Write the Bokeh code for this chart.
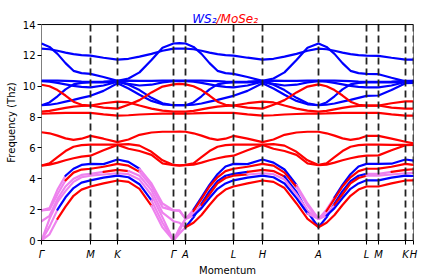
from bokeh.plotting import figure
from bokeh.models import Span, FixedTicker
from bokeh.core.properties import value
from bokeh.embed import file_html
from bokeh.resources import INLINE

# k-path coordinate of each sample point
k_path = [0, 8, 16, 24, 32, 40, 49, 62, 76, 87, 98, 110, 121, 132, 138, 144,
          152, 160, 168, 176, 184, 192, 206, 221, 232, 243, 255, 266, 277,
          285, 293, 301, 309, 317, 325, 337, 350, 364, 372]

sym_x = [0, 49, 76, 132, 144, 192, 221, 277, 325, 337, 364, 372]
sym_labels = ["Γ", "M", "K", "Γ", "A", "L", "H", "A", "L", "M", "K", "H"]

# WS2 optical bands (THz)
ws2_b1 = [12.77, 12.55, 12.1, 11.5, 11.0, 10.85, 10.8, 10.6, 10.35,
          10.5, 10.9, 11.7, 12.5, 12.77, 12.8, 12.77,
          12.55, 12.1, 11.5, 11.0, 10.85, 10.8, 10.6, 10.35,
          10.5, 10.9, 11.7, 12.5, 12.77,
          12.55, 12.1, 11.5, 11.0, 10.85, 10.8, 10.78, 10.55, 10.32, 10.3]
ws2_b2 = [12.44, 12.4, 12.3, 12.18, 12.08, 12.02, 11.99, 11.85, 11.73,
          11.78, 11.92, 12.1, 12.3, 12.44, 12.44, 12.44,
          12.4, 12.3, 12.18, 12.08, 12.02, 11.99, 11.85, 11.73,
          11.78, 11.92, 12.1, 12.3, 12.44,
          12.4, 12.3, 12.18, 12.08, 12.02, 11.99, 11.97, 11.85, 11.73, 11.72]
ws2_b3 = [10.37, 10.37, 10.36, 10.35, 10.33, 10.3, 10.28, 10.3, 10.35,
          10.36, 10.35, 10.35, 10.36, 10.37, 10.37, 10.37,
          10.37, 10.36, 10.35, 10.33, 10.3, 10.28, 10.3, 10.35,
          10.36, 10.35, 10.35, 10.36, 10.37,
          10.37, 10.36, 10.35, 10.33, 10.3, 10.28, 10.28, 10.3, 10.35, 10.35]
ws2_b4 = [10.33, 10.3, 10.22, 10.12, 10.02, 9.96, 9.93, 10.05, 10.3,
          10.15, 10.05, 10.1, 10.25, 10.33, 10.33, 10.33,
          10.3, 10.22, 10.12, 10.02, 9.96, 9.93, 10.05, 10.3,
          10.15, 10.05, 10.1, 10.25, 10.33,
          10.3, 10.22, 10.12, 10.02, 9.96, 9.93, 9.93, 10.05, 10.28, 10.28]
ws2_b5 = [8.77, 8.95, 9.35, 9.8, 10.12, 10.22, 10.25, 10.25, 10.3,
          10.1, 9.75, 9.25, 8.9, 8.77, 8.77, 8.77,
          8.95, 9.35, 9.8, 10.12, 10.22, 10.25, 10.25, 10.3,
          10.1, 9.75, 9.25, 8.9, 8.77,
          8.95, 9.35, 9.8, 10.12, 10.22, 10.25, 10.25, 10.25, 10.3, 10.3]
ws2_b6 = [8.77, 8.8, 8.88, 9.0, 9.12, 9.25, 9.38, 9.7, 10.2,
          9.85, 9.45, 9.05, 8.83, 8.77, 8.77, 8.77,
          8.8, 8.88, 9.0, 9.12, 9.25, 9.38, 9.7, 10.2,
          9.85, 9.45, 9.05, 8.83, 8.77,
          8.8, 8.88, 9.0, 9.12, 9.25, 9.38, 9.4, 9.75, 10.2, 10.22]

# MoSe2 optical bands (THz)
mose2_b1 = [10.1, 10.0, 9.75, 9.4, 9.0, 8.8, 8.75, 8.62, 8.55,
            8.8, 9.1, 9.6, 9.98, 10.12, 10.15, 10.12,
            10.0, 9.75, 9.4, 9.0, 8.8, 8.75, 8.62, 8.55,
            8.8, 9.1, 9.6, 9.98, 10.12,
            10.0, 9.75, 9.4, 9.0, 8.8, 8.75, 8.75, 8.62, 8.55, 8.55]
mose2_b2 = [8.36, 8.4, 8.5, 8.6, 8.68, 8.72, 8.75, 8.9, 9.0,
            8.95, 8.75, 8.55, 8.42, 8.36, 8.36, 8.36,
            8.4, 8.5, 8.6, 8.68, 8.72, 8.75, 8.9, 9.0,
            8.95, 8.75, 8.55, 8.42, 8.36,
            8.4, 8.5, 8.6, 8.68, 8.72, 8.75, 8.75, 8.9, 9.02, 9.02]
mose2_b3 = [8.23, 8.24, 8.26, 8.27, 8.28, 8.28, 8.27, 8.18, 8.1,
            8.12, 8.17, 8.2, 8.22, 8.23, 8.23, 8.23,
            8.24, 8.26, 8.27, 8.28, 8.28, 8.27, 8.18, 8.1,
            8.12, 8.17, 8.2, 8.22, 8.23,
            8.24, 8.26, 8.27, 8.28, 8.28, 8.27, 8.27, 8.18, 8.1, 8.1]
mose2_b4 = [7.02, 6.95, 6.8, 6.62, 6.52, 6.6, 6.78, 6.6, 6.38,
            6.55, 6.85, 7.0, 7.05, 7.05, 7.06, 7.05,
            6.95, 6.8, 6.62, 6.52, 6.6, 6.78, 6.6, 6.38,
            6.55, 6.85, 7.0, 7.05, 7.05,
            6.95, 6.8, 6.62, 6.52, 6.6, 6.78, 6.78, 6.6, 6.4, 6.3]
mose2_b5 = [4.86, 5.0, 5.4, 5.8, 6.08, 6.18, 6.22, 6.22, 6.22,
            6.25, 6.15, 5.75, 5.2, 4.9, 4.88, 4.9,
            5.0, 5.4, 5.8, 6.08, 6.18, 6.22, 6.22, 6.22,
            6.25, 6.15, 5.75, 5.2, 4.9,
            5.0, 5.4, 5.8, 6.08, 6.18, 6.22, 6.22, 6.2, 6.2, 6.2]
mose2_b6 = [4.86, 4.92, 5.05, 5.2, 5.33, 5.44, 5.5, 5.85, 6.2,
            5.95, 5.8, 5.55, 5.0, 4.88, 4.86, 4.88,
            4.92, 5.05, 5.2, 5.33, 5.44, 5.5, 5.85, 6.2,
            5.95, 5.8, 5.55, 5.0, 4.88,
            4.92, 5.05, 5.2, 5.33, 5.44, 5.5, 5.52, 5.85, 6.18, 6.2]

# low-frequency (acoustic + interlayer) bands (THz)
low_a = [1.95, 2.1, 3.3, 4.2, 4.65, 4.9, 4.97, 4.95, 5.25,
         5.1, 4.65, 3.7, 2.4, 1.95, 1.95, 1.4,
         2.0, 2.8, 3.6, 4.3, 4.8, 4.97, 4.95, 5.25,
         5.05, 4.6, 3.6, 2.4, 1.4,
         2.0, 2.8, 3.6, 4.3, 4.8, 4.97, 4.97, 4.98, 5.25, 5.18]
low_b = [1.95, 2.0, 3.0, 3.9, 4.4, 4.6, 4.65, 4.78, 4.97,
         4.85, 4.45, 3.5, 2.15, 1.95, 1.92, 1.4,
         1.9, 2.7, 3.5, 4.1, 4.5, 4.65, 4.78, 4.97,
         4.85, 4.4, 3.45, 2.25, 1.4,
         1.9, 2.7, 3.5, 4.1, 4.5, 4.65, 4.66, 4.78, 4.97, 4.9]
low_c = [1.25, 1.6, 2.7, 3.5, 4.0, 4.25, 4.32, 4.45, 4.58,
         4.5, 4.2, 3.25, 1.8, 1.25, 1.15, 0.86,
         1.5, 2.4, 3.2, 3.85, 4.2, 4.32, 4.45, 4.58,
         4.5, 4.15, 3.15, 1.85, 0.86,
         1.5, 2.4, 3.2, 3.85, 4.2, 4.32, 4.32, 4.45, 4.58, 4.62]
low_d = [0.0, 1.4, 2.5, 3.2, 3.8, 4.1, 4.2, 4.28, 4.36,
         4.3, 3.95, 2.95, 1.5, 0.0, 0.8, 1.4,
         1.7, 2.3, 3.0, 3.7, 4.05, 4.2, 4.28, 4.36,
         4.3, 3.95, 3.0, 1.95, 1.4,
         1.7, 2.3, 3.0, 3.7, 4.05, 4.2, 4.2, 4.28, 4.36, 4.38]
low_e = [0.0, 0.9, 2.0, 2.8, 3.4, 3.75, 3.9, 4.08, 4.21,
         4.1, 3.65, 2.6, 1.15, 0.0, 0.65, 1.4,
         1.6, 2.1, 2.75, 3.35, 3.7, 3.9, 4.08, 4.21,
         4.1, 3.7, 2.75, 1.75, 1.4,
         1.6, 2.1, 2.75, 3.35, 3.7, 3.9, 3.9, 4.08, 4.21, 4.18]
low_f = [0.0, 0.4, 1.4, 2.2, 2.9, 3.3, 3.5, 3.7, 3.89,
         3.8, 3.35, 2.25, 0.85, 0.0, 0.45, 0.86,
         1.15, 1.65, 2.3, 2.9, 3.3, 3.5, 3.7, 3.89,
         3.8, 3.4, 2.4, 1.4, 0.86,
         1.15, 1.65, 2.3, 2.9, 3.3, 3.5, 3.5, 3.7, 3.89, 3.9]

# layer character of each low band, per path segment (v: mixed, b: WS2, r: MoSe2)
low_a_char = "vvvbbb" + "bb" + "bbvvv" + "vv" + "vbbbbb" + "bb" + "bbbvv" + "vvbbbb" + "b" + "bb" + "b"
low_b_char = "vvvrrr" + "rr" + "rrvvv" + "vv" + "vrrrrr" + "rr" + "rrrvv" + "vrrrrr" + "r" + "rr" + "r"
low_c_char = "vvvvvv" + "vr" + "rvvvv" + "vv" + "bbbbbb" + "br" + "rrbbb" + "bbbbbb" + "v" + "vr" + "r"
low_d_char = "vvvvvv" + "vv" + "vvvvv" + "vv" + "vvrrrr" + "rv" + "vvvvv" + "vvrrrr" + "v" + "vv" + "v"
low_e_char = "vvbbbb" + "bb" + "bbbvv" + "vv" + "vbbbbb" + "bb" + "bbbbv" + "vbbbbb" + "b" + "bb" + "b"
low_f_char = "vvrrrr" + "rr" + "rrrvv" + "vv" + "rrrrrr" + "rr" + "rrrrr" + "rrrrrr" + "r" + "rr" + "r"

y_ticks = [0, 2, 4, 6, 8, 10, 12, 14]
title_parts = ["WS₂", "/MoSe₂"]

WS2_COLOR = "#0000ff"
MOSE2_COLOR = "#ff0000"
MIX_COLOR = "#ee82ee"
char_color = {"b": WS2_COLOR, "r": MOSE2_COLOR, "v": MIX_COLOR}
LW = 2.2
font = "DejaVu Sans"

y_top = y_ticks[-1]
k_end = k_path[-1]
view_top = y_top + 1.3   # room above the box for the two-coloured title

p = figure(width=424, height=280, x_range=(0, k_end), y_range=(0, view_top),
           output_backend="svg", toolbar_location=None,
           min_border_left=41, min_border_right=11,
           min_border_top=4, min_border_bottom=40)
p.background_fill_color = "white"
p.border_fill_color = "white"
p.outline_line_color = None
p.xgrid.visible = False
p.ygrid.visible = False

for band in [ws2_b1, ws2_b2, ws2_b3, ws2_b4, ws2_b5, ws2_b6]:
    p.line(k_path, band, line_color=WS2_COLOR, line_width=LW)
for band in [mose2_b1, mose2_b2, mose2_b3, mose2_b4, mose2_b5, mose2_b6]:
    p.line(k_path, band, line_color=MOSE2_COLOR, line_width=LW)

for band, chars in [(low_a, low_a_char), (low_b, low_b_char), (low_c, low_c_char),
                    (low_d, low_d_char), (low_e, low_e_char), (low_f, low_f_char)]:
    start = 0
    for i in range(1, len(chars) + 1):
        if i == len(chars) or chars[i] != chars[start]:
            xs = k_path[start:i + 1]
            ys = band[start:i + 1]
            p.line(xs, ys, line_color=char_color[chars[start]], line_width=LW,
                   line_cap="round", line_join="round")
            start = i

# vertical dashed lines at the high-symmetry points
p.segment(x0=sym_x[1:], y0=[0] * (len(sym_x) - 1), x1=sym_x[1:],
          y1=[y_top] * (len(sym_x) - 1), line_color="#222222",
          line_width=1.8, line_dash="7 4")

# box (left, top, right spines); bottom is the x axis line
p.segment(x0=[0, 0, k_end], y0=[0, y_top, 0], x1=[0, k_end, k_end],
          y1=[y_top, y_top, y_top], line_color="black", line_width=1)

# two-coloured title
split_x = 175
p.text(x=[split_x], y=[y_top + 0.37], text=[title_parts[0]], text_align="right",
       text_baseline="alphabetic", text_color=WS2_COLOR, text_font=value(font),
       text_font_style="italic", text_font_size="12px")
p.text(x=[split_x], y=[y_top + 0.37], text=[title_parts[1]], text_align="left",
       text_baseline="alphabetic", text_color=MOSE2_COLOR, text_font=value(font),
       text_font_style="italic", text_font_size="12px")

p.xaxis.ticker = FixedTicker(ticks=sym_x)
p.xaxis.major_label_overrides = {x: lab for x, lab in zip(sym_x, sym_labels)}
p.yaxis.ticker = FixedTicker(ticks=y_ticks)
for ax in [p.xaxis[0], p.yaxis[0]]:
    ax.major_label_text_font = font
    ax.major_label_text_font_size = "10px"
    ax.major_label_text_color = "black"
    ax.axis_label_text_font = font
    ax.axis_label_text_font_size = "10px"
    ax.axis_label_text_font_style = "normal"
    ax.axis_label_text_color = "black"
    ax.major_tick_out = 4
    ax.major_tick_in = 0
    ax.minor_tick_out = 0
    ax.minor_tick_in = 0
    ax.major_tick_line_color = "black"
    ax.axis_label_standoff = 3
p.xaxis.axis_line_color = "black"
p.yaxis.axis_line_color = None
p.xaxis.major_label_standoff = 4
p.yaxis.major_label_standoff = 2
p.xaxis.axis_label_standoff = 2
p.xaxis.major_label_text_font_style = "italic"
p.xaxis.axis_label = "Momentum"
p.yaxis.axis_label = "Frequency (Thz)"

open("out.html", "w").write(file_html(p, INLINE))
